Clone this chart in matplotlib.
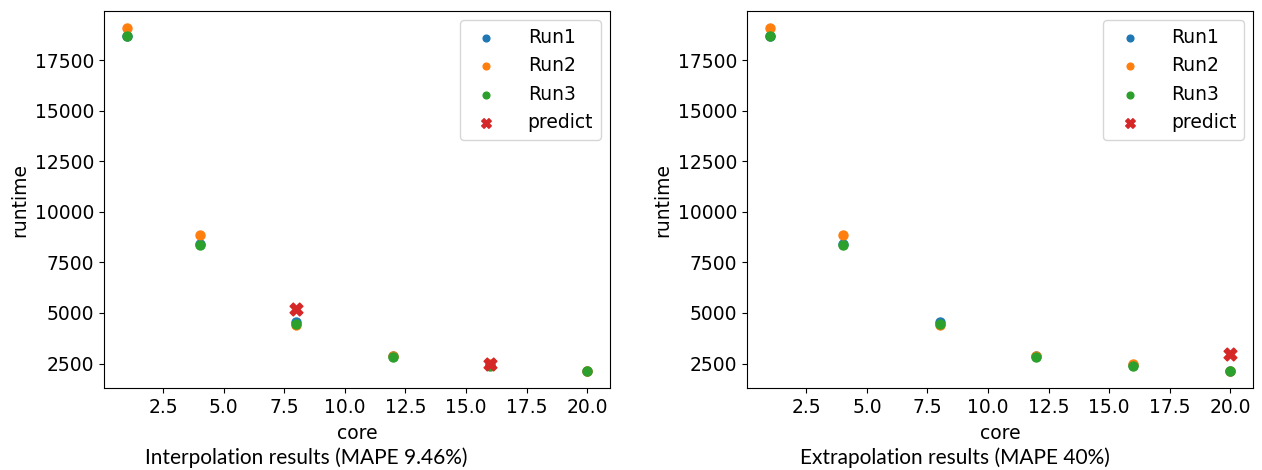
import matplotlib
matplotlib.use("Agg")
import matplotlib.pyplot as plt
from matplotlib.ticker import MultipleLocator

# measured runtimes per core count
cores = [1, 4, 8, 12, 16, 20]
run1 = [18700, 8400, 4560, 2850, 2430, 2150]
run2 = [19080, 8870, 4430, 2860, 2460, 2140]
run3 = [18680, 8360, 4480, 2840, 2400, 2140]

# predictions
interp_cores = [8, 16]
interp_pred = [5180, 2500]
extrap_cores = [20]
extrap_pred = [2980]

captions = ["Interpolation results (MAPE 9.46%)", "Extrapolation results (MAPE 40%)"]

plt.rcParams['font.family'] = ['DejaVu Sans']
plt.rcParams['font.size'] = 13.5

fig = plt.figure(figsize=(12.62, 4.70), dpi=100)
ax1 = fig.add_axes([0.0824, 0.1745, 0.401, 0.802])
ax2 = fig.add_axes([0.592, 0.1745, 0.401, 0.802])

for ax, pc, pv in [(ax1, interp_cores, interp_pred), (ax2, extrap_cores, extrap_pred)]:
    ax.scatter(cores, run1, s=42, color='tab:blue', label='Run1')
    ax.scatter(cores, run2, s=42, color='tab:orange', label='Run2')
    ax.scatter(cores, run3, s=42, color='tab:green', label='Run3')
    ax.scatter(pc, pv, s=85, marker='X', color='tab:red', label='predict')
    ax.xaxis.set_major_locator(MultipleLocator(2.5))
    ax.set_xlabel('core', labelpad=5)
    ax.set_ylabel('runtime')
    ax.legend(loc='upper right', markerscale=0.75, handletextpad=1.2)

fig.text(0.2425, 0.026, captions[0], ha='center', va='center', family='Lato', fontsize=15)
fig.text(0.757, 0.026, captions[1], ha='center', va='center', family='Lato', fontsize=15)

fig.savefig('out.png', dpi=100)
